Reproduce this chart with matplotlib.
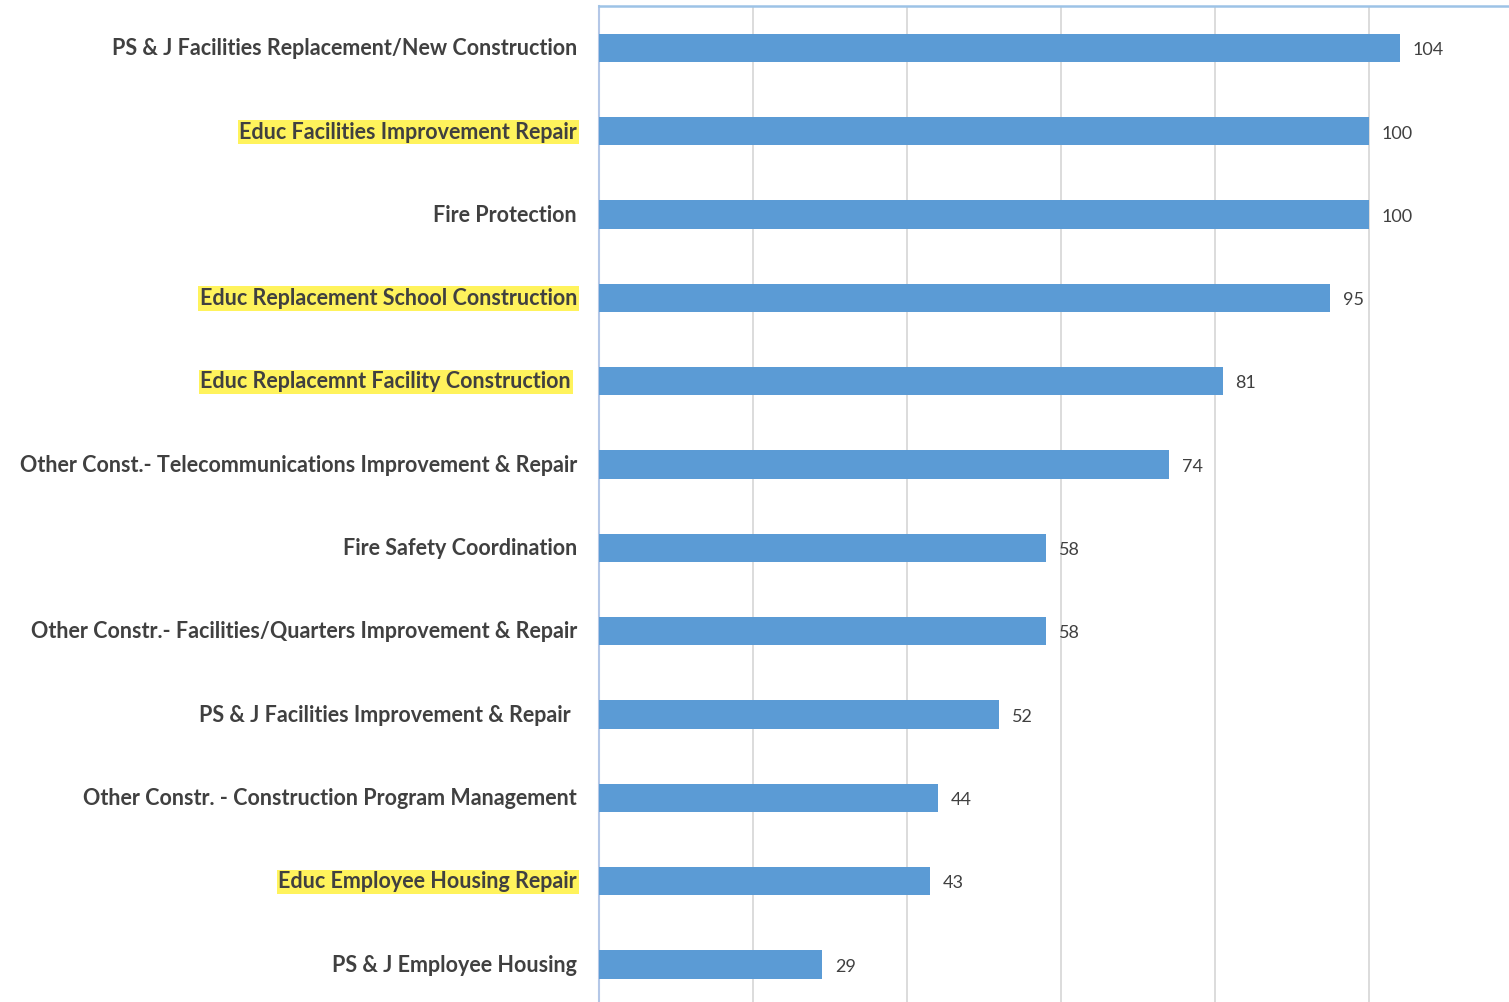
import numpy as np
import matplotlib.pyplot as plt
from matplotlib.transforms import ScaledTranslation

# data, top to bottom as shown
categories = [
    "PS & J Facilities Replacement/New Construction",
    "Educ Facilities Improvement Repair",
    "Fire Protection",
    "Educ Replacement School Construction",
    "Educ Replacemnt Facility Construction ",
    "Other Const.- Telecommunications Improvement & Repair",
    "Fire Safety Coordination",
    "Other Constr.- Facilities/Quarters Improvement & Repair",
    "PS & J Facilities Improvement & Repair ",
    "Other Constr. - Construction Program Management",
    "Educ Employee Housing Repair",
    "PS & J Employee Housing",
]
values = [104, 100, 100, 95, 81, 74, 58, 58, 52, 44, 43, 29]
highlighted = [False, True, False, True, True, False, False, False, False, False, True, False]

bar_color = '#5b9bd5'
text_color = '#404040'
W, H = 1509, 1002

fig = plt.figure(figsize=(W / 100, H / 100), dpi=100)
ax = fig.add_axes([599 / W, -4 / H, 1 - 599 / W, 1 - 2 / H])

y = np.arange(len(categories))
ax.barh(y, values, height=0.34, color=bar_color, zorder=3)

ax.set_xticks(np.arange(20, 121, 20))
ax.set_xlim(0, 118.2)
ax.set_ylim(len(categories) - 0.5, -0.5)
ax.grid(axis='x', color='#d9d9d9', linewidth=1.3, zorder=0)
ax.tick_params(left=False, bottom=False, labelbottom=False, labelleft=False)
for s in ['right', 'bottom']:
    ax.spines[s].set_visible(False)
ax.spines['left'].set_color('#b4c7e7')
ax.spines['left'].set_linewidth(1.5)
ax.spines['top'].set_color('#9dc3e6')
ax.spines['top'].set_linewidth(1.8)

# category labels
ytrans = ax.get_yaxis_transform()
for i, (lab, hl) in enumerate(zip(categories, highlighted)):
    shift = 28 if lab.endswith(' ') else 22
    tr = ytrans + ScaledTranslation(-shift / 100, -0.01, fig.dpi_scale_trans)
    t = ax.text(0, i, lab.strip(), transform=tr, ha='right', va='center',
                fontsize=15.5, family='Lato', fontweight='bold', color=text_color)
    if hl:
        t.set_bbox(dict(facecolor='#fff35c', edgecolor='none', pad=1.2))

# value labels
for i, v in enumerate(values):
    tr = ax.transData + ScaledTranslation(13 / 100, -0.025, fig.dpi_scale_trans)
    ax.text(v, i, str(v), transform=tr, ha='left', va='center',
            fontsize=13, family='Lato', color=text_color)

fig.savefig('out.png', dpi=100)
